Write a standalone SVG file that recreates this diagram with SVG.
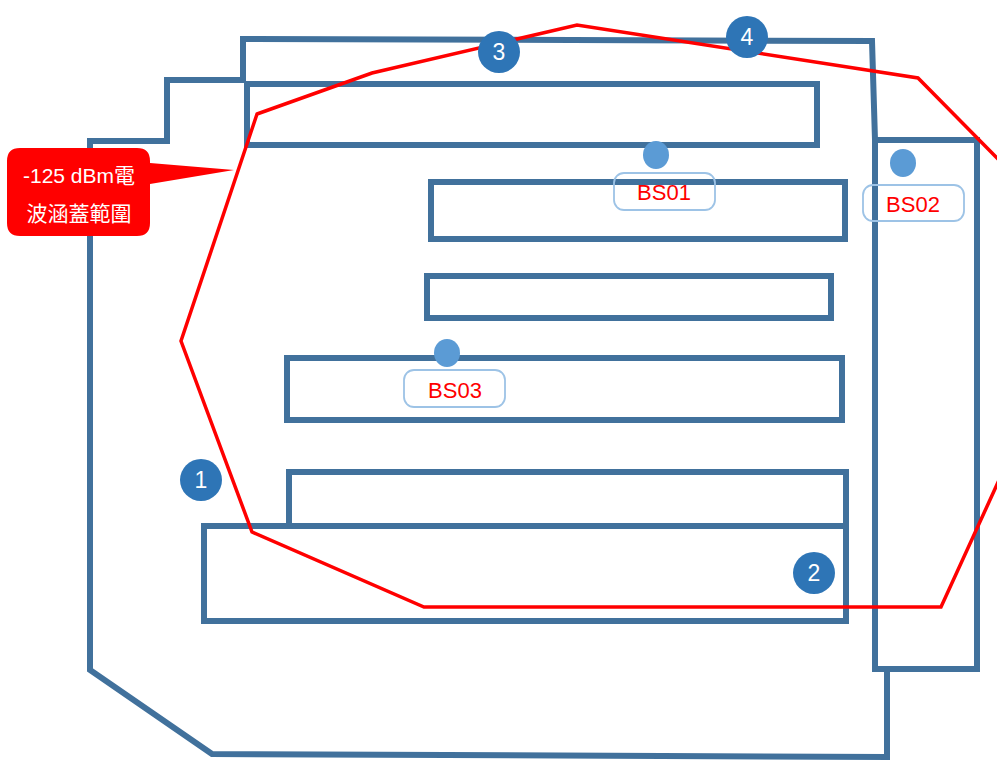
<svg xmlns="http://www.w3.org/2000/svg" width="997" height="764" viewBox="0 0 997 764">
<style>
.wall{fill:none;stroke:#41719C;stroke-width:6;stroke-linejoin:miter}
.cov{fill:none;stroke:#FF0000;stroke-width:3.5;stroke-linejoin:miter}
.num{fill:#2E75B6}
.numt{fill:#FFFFFF;font-family:"Liberation Sans","Noto Sans",sans-serif;font-size:23px;text-anchor:middle}
.dot{fill:#5B9BD5}
.lbl{fill:none;stroke:#9DC3E6;stroke-width:1.8}
.bst{fill:#FF0000;font-family:"Liberation Sans","Noto Sans",sans-serif;font-size:22px;text-anchor:middle}
.ct{fill:#FFFFFF;font-family:"Liberation Sans","Noto Sans CJK TC",sans-serif;font-size:21px;text-anchor:middle}
</style>
<rect width="997" height="764" fill="#FFFFFF"/>
<g id="building">
<polyline class="wall" points="887,669 887,757 212,754 90,670 90,141 167,141 167,80 243,80 243,39 872,41 875,140"/>
<rect id="wing" class="wall" x="875" y="140" width="102" height="529"/>
</g>
<g id="rooms">
<rect id="room1" class="wall" x="247" y="84" width="570" height="61"/>
<rect id="room2" class="wall" x="431" y="182" width="414" height="57"/>
<rect id="room3" class="wall" x="427" y="276" width="404" height="42"/>
<rect id="room4" class="wall" x="287" y="358" width="555" height="62"/>
<polyline id="room5" class="wall" points="289,526 289,472 846,472 846,526"/>
<rect id="room6" class="wall" x="204" y="526" width="642" height="95"/>
</g>
<g id="coverage">
<polygon class="cov" points="257,114 372,73 577,25 918,78 1000,161 1000,478 941,607 424,607 252,532 181,341"/>
</g>
<g id="callout">
<path d="M20,148 H137 Q150,148 150,161 V163 L234,170 L150,184 V223 Q150,236 137,236 H20 Q7,236 7,223 V161 Q7,148 20,148 Z" fill="#FF0000"/>
<text class="ct" x="79" y="183">-125 dBm電</text>
<text class="ct" x="79" y="221">波涵蓋範圍</text>
</g>
<g id="marker1"><circle class="num" cx="201" cy="480" r="21"/><text class="numt" x="201" y="488">1</text></g>
<g id="marker2"><circle class="num" cx="814" cy="573" r="21"/><text class="numt" x="814" y="581">2</text></g>
<g id="marker3"><circle class="num" cx="499" cy="52" r="21"/><text class="numt" x="499" y="60">3</text></g>
<g id="marker4"><circle class="num" cx="747" cy="37" r="21"/><text class="numt" x="747" y="45">4</text></g>
<g id="BS01">
<ellipse class="dot" cx="656" cy="155" rx="13" ry="14"/>
<rect class="lbl" x="614" y="173" width="101" height="37" rx="10"/>
<text class="bst" x="664" y="200">BS01</text>
</g>
<g id="BS02">
<ellipse class="dot" cx="903" cy="163" rx="13" ry="14"/>
<rect class="lbl" x="863" y="185" width="101" height="36" rx="10"/>
<text class="bst" x="913" y="212">BS02</text>
</g>
<g id="BS03">
<ellipse class="dot" cx="447" cy="353" rx="13" ry="14"/>
<rect class="lbl" x="404" y="370" width="101" height="37" rx="10"/>
<text class="bst" x="455" y="398">BS03</text>
</g>
</svg>
